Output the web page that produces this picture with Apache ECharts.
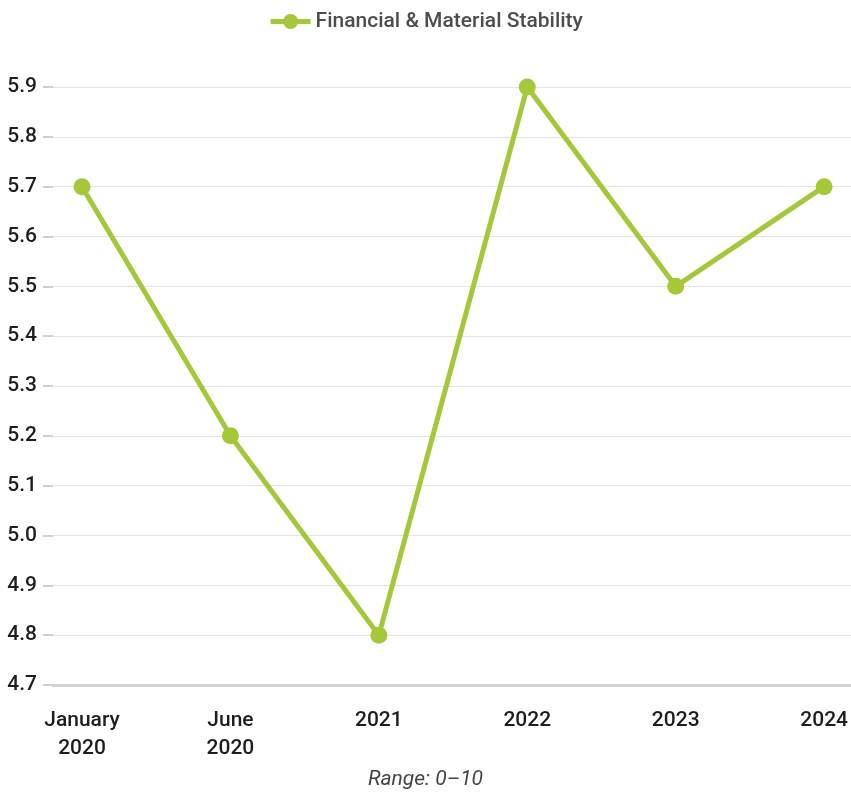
<!DOCTYPE html>
<html><head><meta charset="utf-8">
<script src="https://cdn.jsdelivr.net/npm/echarts@6/dist/echarts.min.js"></script>
<style>html,body{margin:0;padding:0;background:#fff}#c{width:851px;height:793px}</style>
</head><body><div id="c"></div>
<script>
const categories = ['January\n2020', 'June\n2020', '2021', '2022', '2023', '2024'];
const seriesName = 'Financial & Material Stability';
const values = [5.7, 5.2, 4.8, 5.9, 5.5, 5.7];
const yMin = 4.7, yMax = 5.9, yStep = 0.1;
const footnote = 'Range: 0\u201310';

const FONT = 'Roboto, "Liberation Sans", sans-serif';
const GREEN = '#a5c73a';
const chart = echarts.init(document.getElementById('c'), null, {renderer: 'canvas'});
chart.setOption({
  animation: false,
  textStyle: {fontFamily: FONT},
  legend: {
    top: 6, left: 'center',
    itemWidth: 40, itemHeight: 19, itemGap: 4,
    lineStyle: {width: 5},
    textStyle: {fontFamily: FONT, fontSize: 21, fontWeight: 500, color: '#4d4d4d'},
    data: [seriesName]
  },
  title: {
    text: footnote, left: 'center', bottom: -2,
    textStyle: {fontFamily: FONT, fontSize: 21, fontStyle: 'italic', fontWeight: 'normal', color: '#444'}
  },
  grid: [
    {left: 82, right: 25, top: 87, bottom: 108},
    {left: 53, right: 0, top: 87, bottom: 108}
  ],
  xAxis: [
    {type: 'category', gridIndex: 0, data: categories, boundaryGap: false,
     axisLine: {show: false}, axisTick: {show: false},
     axisLabel: {fontFamily: FONT, fontSize: 21, fontWeight: 500, color: '#1e1e1e', margin: 22, lineHeight: 28, interval: 0}},
    {type: 'value', gridIndex: 1, min: 0, max: 1, show: true,
     axisLabel: {show: false}, axisTick: {show: false}, splitLine: {show: false},
     axisLine: {show: true, lineStyle: {color: '#d2d2d2', width: 3}}}
  ],
  yAxis: [
    {type: 'value', gridIndex: 0, min: yMin, max: yMax, interval: yStep, show: false},
    {type: 'value', gridIndex: 1, min: yMin, max: yMax, interval: yStep,
     axisLine: {show: false},
     axisTick: {show: true, length: 10, lineStyle: {color: '#cfcfcf', width: 2}},
     axisLabel: {fontFamily: FONT, fontSize: 21, fontWeight: 500, color: '#1e1e1e', margin: 16,
       formatter: v => v.toFixed(1)},
     splitLine: {show: true, lineStyle: {color: '#e3e3e3', width: 1}}}
  ],
  series: [{
    name: seriesName, type: 'line', xAxisIndex: 0, yAxisIndex: 0,
    data: values, symbol: 'circle', symbolSize: 17,
    lineStyle: {color: GREEN, width: 5},
    itemStyle: {color: GREEN},
    z: 5
  }]
});
</script></body></html>
